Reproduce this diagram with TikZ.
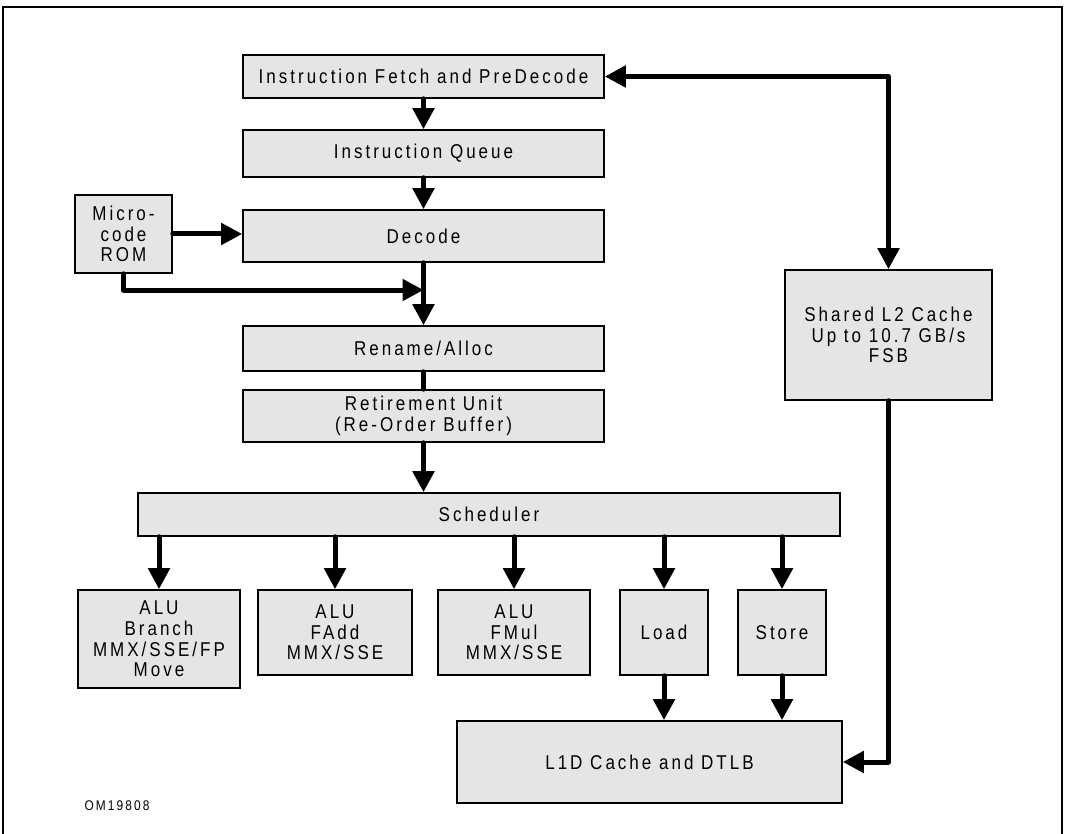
\documentclass[tikz,border=0pt]{standalone}
\usepackage{fontspec}
\setmainfont{Liberation Sans}[LetterSpace=15,FakeStretch=0.85]
\usetikzlibrary{positioning,arrows.meta}

\tikzset{
  unit/.style={draw, line width=1.6pt, fill=black!10, align=center, inner sep=0pt,
    font=\fontsize{20}{20.7}\selectfont},
  flow/.style={line width=5pt, line cap=round, line join=round,
    -{Triangle[length=21pt,width=21pt]}},
  flowboth/.style={line width=5pt, line cap=round, line join=round,
    {Triangle[length=21pt,width=21pt]}-{Triangle[length=21pt,width=21pt]}},
  link/.style={line width=5pt, line cap=round},
}

\begin{document}
\begin{tikzpicture}[x=1pt,y=-1pt]
  \useasboundingbox (0,0) rectangle (1065,834);
  % outer frame, open at the bottom
  \draw[line width=2.5pt] (3,834) -- (3,7) -- (1062,7) -- (1062,834);

  % front end
  \node[unit, minimum width=361pt, minimum height=43pt] (fetch) at (423.5,76.5) {Instruction Fetch and PreDecode};
  \node[unit, minimum width=361pt, minimum height=47pt] (queue) at (423.5,153.5) {Instruction Queue};
  \node[unit, minimum width=361pt, minimum height=52pt] (decode) at (423.5,236) {Decode};
  \node[unit, minimum width=97pt, minimum height=78pt] (rom) at (123.5,234) {Micro-\\code\\ROM};
  \node[unit, minimum width=361pt, minimum height=45pt] (rename) at (423.5,348.5) {Rename/Alloc};
  \node[unit, minimum width=361pt, minimum height=52pt] (retire) at (423.5,416) {Retirement Unit\\(Re-Order Buffer)};
  \node[unit, minimum width=702pt, minimum height=43pt] (sched) at (489,514.5) {Scheduler};
  \coordinate (merge) at (423.5,290);

  % execution units
  \node[unit, minimum width=162pt, minimum height=98pt] (alu1) at (159,639) {ALU\\Branch\\MMX/SSE/FP\\Move};
  \node[unit, minimum width=154pt, minimum height=85pt] (alu2) at (335,632.5) {ALU\\FAdd\\MMX/SSE};
  \node[unit, minimum width=152pt, minimum height=85pt] (alu3) at (514,632.5) {ALU\\FMul\\MMX/SSE};
  \node[unit, minimum width=88pt, minimum height=85pt] (load) at (664,632.5) {Load};
  \node[unit, minimum width=88pt, minimum height=85pt] (store) at (782,632.5) {Store};

  % memory side
  \node[unit, minimum width=385pt, minimum height=82pt] (l1d) at (649.5,762) {L1D Cache and DTLB};
  \node[unit, minimum width=207pt, minimum height=130pt] (l2) at (888.5,335) {Shared L2 Cache\\Up to 10.7 GB/s\\FSB};

  \node[font=\fontsize{14}{16}\selectfont] (tag) at (117,806) {OM19808};

  % connections
  \draw[flow] (fetch) -- (queue);
  \draw[flow] (queue) -- (decode);
  \draw[flow] (rom.east) -- (rom.east -| decode.west);
  \draw[flow] (decode) -- (rename);
  \draw[flow] (rom.south) |- (merge);
  \draw[link] (rename) -- (retire);
  \draw[flow] (retire.south) -- (retire.south |- sched.north);
  \foreach \u in {alu1,alu2,alu3,load,store}
    \draw[flow] (sched.south -| \u.north) -- (\u.north);
  \foreach \u in {load,store}
    \draw[flow] (\u.south) -- (\u.south |- l1d.north);
  \draw[flowboth] (fetch.east) -| (l2.north);
  \draw[flow] (l2.south) |- (l1d.east);
\end{tikzpicture}
\end{document}
